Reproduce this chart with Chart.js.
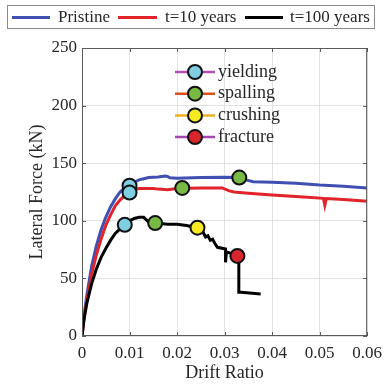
<!DOCTYPE html>
<html>
<head>
<meta charset="utf-8">
<script src="https://cdn.jsdelivr.net/npm/chart.js@4.4.1/dist/chart.umd.min.js"></script>
<style>
  html, body { margin: 0; padding: 0; background: #fff; }
  #wrap { width: 389px; height: 384px; }
</style>
</head>
<body>
<div id="wrap"><canvas id="pushoverChart" width="389" height="384"></canvas></div>
<script>
// series labels and colours
const seriesNames = ['Pristine', 't=10 years', 't=100 years'];
const seriesColors = ['#3f50b2', '#e2232a', '#000000'];

// pristine curve
const driftPristine = [0, 0.0005, 0.001, 0.002, 0.003, 0.004, 0.005, 0.006, 0.007, 0.008, 0.009, 0.010, 0.011, 0.012, 0.013, 0.014, 0.016, 0.0175, 0.018, 0.0185, 0.020, 0.025, 0.030, 0.033, 0.0345, 0.036, 0.040, 0.045, 0.050, 0.055, 0.060];
const forcePristine = [0, 20, 35, 60, 78, 92, 103, 112, 119, 125, 128.5, 131, 133.5, 135.5, 136.5, 137.5, 138, 138.8, 138.5, 137.3, 137, 137.5, 137.8, 137.5, 135.5, 134, 133.5, 132.5, 131, 130, 128.5];

// t=10 years curve
const drift10 = [0, 0.0005, 0.001, 0.002, 0.003, 0.004, 0.005, 0.006, 0.007, 0.008, 0.009, 0.010, 0.011, 0.012, 0.015, 0.016, 0.018, 0.020, 0.025, 0.0295, 0.031, 0.032, 0.035, 0.040, 0.045, 0.0508, 0.0511, 0.0514, 0.055, 0.060];
const force10 = [0, 17, 30, 53, 70, 84, 96, 105, 113, 118, 122, 125, 127, 128, 128, 127.5, 127, 128, 128.5, 128.5, 126, 125, 124, 122.5, 121, 119.5, 113.5, 119.3, 118.5, 117];

// t=100 years curve
const drift100 = [0, 0.0004, 0.001, 0.002, 0.003, 0.004, 0.005, 0.006, 0.007, 0.008, 0.009, 0.010, 0.011, 0.012, 0.013, 0.014, 0.0155, 0.018, 0.020, 0.022, 0.0243, 0.0255, 0.026, 0.0265, 0.027, 0.0275, 0.028, 0.0285, 0.0302, 0.0302, 0.0304, 0.0327, 0.033, 0.033, 0.0335, 0.0376];
const force100 = [0, 14, 28, 45, 58, 68, 76, 83, 89, 93, 96.5, 100, 102, 103, 103, 99, 98, 97, 97, 96, 94, 90, 86, 87, 83, 84, 80, 77, 75.5, 64, 73, 70, 69, 38, 38, 36.5];

// damage states (marker x / y values)
const damageNames = ['yielding', 'spalling', 'crushing', 'fracture'];
const damageFill = ['#7fcfe2', '#78b944', '#f6ea22', '#d9262c'];
const damageLine = ['#b04fb8', '#d95319', '#edb120', '#a347b0'];
const yieldingX = [0.010, 0.010, 0.009];
const yieldingY = [130.5, 124.5, 96.5];
const spallingX = [0.0331, 0.0211, 0.0154];
const spallingY = [137.5, 128.5, 98];
const crushingX = [0.0243];
const crushingY = [94];
const fractureX = [0.0327];
const fractureY = [69.5];

// axes
const xTickLabels = ['0', '0.01', '0.02', '0.03', '0.04', '0.05', '0.06'];
const yTickLabels = ['0', '50', '100', '150', '200', '250'];

function toPoints(xs, ys) {
    return xs.map((x, i) => ({ x: x, y: ys[i] }));
}

const serif = "'Liberation Serif', 'Times New Roman', serif";
const textColor = '#262626';

const lineSets = [
    [driftPristine, forcePristine],
    [drift10, force10],
    [drift100, force100]
].map((pair, i) => ({
    type: 'line',
    label: seriesNames[i],
    data: toPoints(pair[0], pair[1]),
    borderColor: seriesColors[i],
    backgroundColor: seriesColors[i],
    borderWidth: 3,
    pointRadius: 0,
    tension: 0,
    order: 3 - i + 1
}));

const markerSets = [
    [yieldingX, yieldingY],
    [spallingX, spallingY],
    [crushingX, crushingY],
    [fractureX, fractureY]
].map((pair, i) => ({
    type: 'scatter',
    label: damageNames[i],
    data: toPoints(pair[0], pair[1]),
    backgroundColor: damageFill[i],
    borderColor: '#111',
    borderWidth: 2,
    pointRadius: 7,
    pointHoverRadius: 7,
    order: 0
}));

// box around plot, top legend and inner marker legend
const decorations = {
    id: 'decorations',
    afterDraw(chart) {
        const ctx = chart.ctx;
        const a = chart.chartArea;
        ctx.save();
        ctx.strokeStyle = '#5a5a5a';
        ctx.lineWidth = 1;
        ctx.strokeRect(a.left + 0.5, a.top + 0.5, a.right - a.left - 1, a.bottom - a.top - 1);

        // small inward ticks
        const xs = chart.scales.x, ys = chart.scales.y;
        ctx.beginPath();
        xs.ticks.forEach(t => {
            const px = Math.round(xs.getPixelForValue(t.value)) + 0.5;
            ctx.moveTo(px, a.bottom); ctx.lineTo(px, a.bottom - 4);
            ctx.moveTo(px, a.top); ctx.lineTo(px, a.top + 4);
        });
        ys.ticks.forEach(t => {
            const py = Math.round(ys.getPixelForValue(t.value)) + 0.5;
            ctx.moveTo(a.left, py); ctx.lineTo(a.left + 4, py);
            ctx.moveTo(a.right, py); ctx.lineTo(a.right - 4, py);
        });
        ctx.stroke();

        // top legend
        ctx.strokeStyle = '#8a8a8a';
        ctx.strokeRect(7.5, 5.5, 367, 23);
        ctx.font = '17px ' + serif;
        ctx.textBaseline = 'middle';
        ctx.fillStyle = textColor;
        const legendX = [[12, 50, 58], [118, 157, 165], [245, 283, 290]];
        seriesNames.forEach((name, i) => {
            ctx.strokeStyle = seriesColors[i];
            ctx.lineWidth = 3;
            ctx.beginPath();
            ctx.moveTo(legendX[i][0], 17.5);
            ctx.lineTo(legendX[i][1], 17.5);
            ctx.stroke();
            ctx.fillText(name, legendX[i][2], 18);
        });

        // damage legend inside the plot
        ctx.font = '18px ' + serif;
        damageNames.forEach((name, i) => {
            const cy = 72 + i * 21.7;
            ctx.strokeStyle = damageLine[i];
            ctx.lineWidth = 2.5;
            ctx.beginPath();
            ctx.moveTo(175, cy);
            ctx.lineTo(215, cy);
            ctx.stroke();
            ctx.beginPath();
            ctx.arc(195, cy, 7, 0, Math.PI * 2);
            ctx.fillStyle = damageFill[i];
            ctx.fill();
            ctx.lineWidth = 2;
            ctx.strokeStyle = '#111';
            ctx.stroke();
            ctx.fillStyle = textColor;
            ctx.fillText(name, 218, cy);
        });
        ctx.restore();
    }
};

const ctx = document.getElementById('pushoverChart').getContext('2d');
new Chart(ctx, {
    data: { datasets: markerSets.concat(lineSets) },
    options: {
        responsive: false,
        animation: false,
        events: [],
        layout: { padding: { top: 48, right: 15, left: 0, bottom: 0 } },
        plugins: {
            legend: { display: false },
            tooltip: { enabled: false }
        },
        scales: {
            x: {
                type: 'linear',
                min: 0,
                max: 0.06,
                afterFit(scale) { scale.height = 48; },
                afterBuildTicks(scale) {
                    scale.ticks = xTickLabels.map(t => ({ value: parseFloat(t) }));
                },
                ticks: {
                    padding: 7,
                    color: textColor,
                    font: { family: serif, size: 17 },
                    maxRotation: 0,
                    callback: (v, i) => xTickLabels[i]
                },
                grid: { color: '#e3e3e3', drawTicks: false },
                border: { display: false },
                title: {
                    display: true,
                    text: 'Drift Ratio',
                    color: textColor,
                    font: { family: serif, size: 18 },
                    padding: { top: 0, bottom: 0 }
                }
            },
            y: {
                type: 'linear',
                min: 0,
                max: 250,
                afterFit(scale) { scale.width = 82; },
                afterBuildTicks(scale) {
                    scale.ticks = yTickLabels.map(t => ({ value: parseFloat(t) }));
                },
                ticks: {
                    padding: 5,
                    color: textColor,
                    font: { family: serif, size: 17 },
                    callback: (v, i) => yTickLabels[i]
                },
                grid: { color: '#e3e3e3', drawTicks: false },
                border: { display: false },
                title: {
                    display: true,
                    text: 'Lateral Force (kN)',
                    color: textColor,
                    font: { family: serif, size: 18 },
                    padding: { top: 26, bottom: 0 }
                }
            }
        }
    },
    plugins: [decorations]
});
</script>
</body>
</html>
